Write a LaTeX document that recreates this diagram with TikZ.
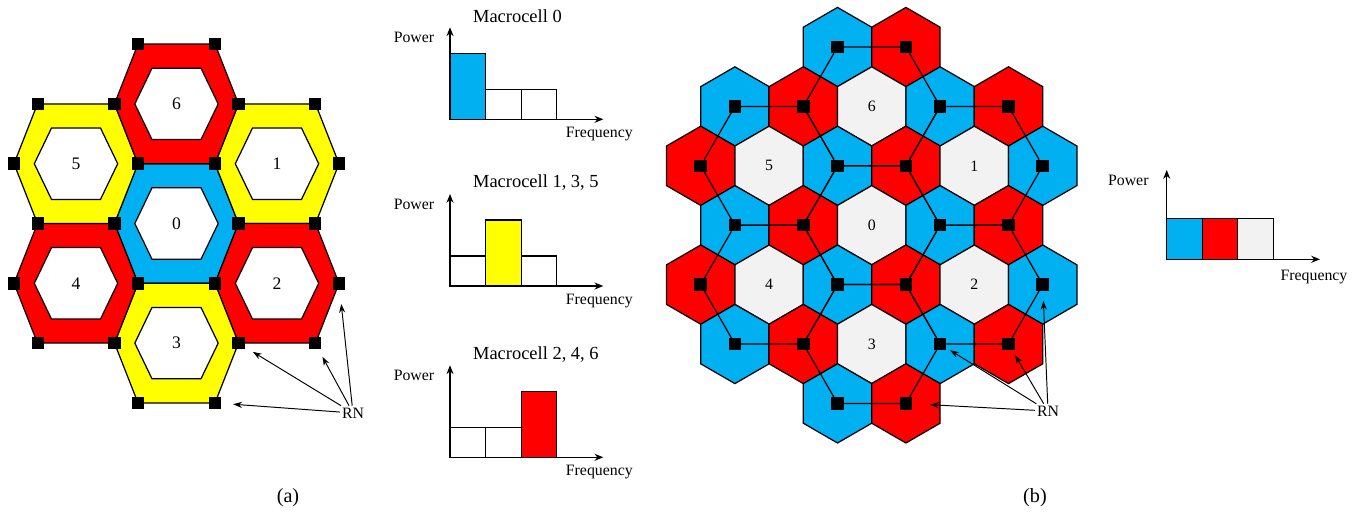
\documentclass[tikz,border=0pt]{standalone}
\usepackage{fontspec}
\setmainfont{Liberation Serif}
\usepackage{tikz}
\usetikzlibrary{arrows.meta}

\definecolor{celeste}{RGB}{0,176,240}
\definecolor{rosso}{RGB}{255,0,0}
\definecolor{giallo}{RGB}{255,255,0}
\definecolor{grigio}{RGB}{242,242,242}
\colorlet{tinta0}{grigio}
\colorlet{tinta1}{celeste}
\colorlet{tinta2}{rosso}

\tikzset{
  bordo/.style={draw=black, line width=0.7pt},
  rn/.style={fill=black, minimum size=2.5mm, inner sep=0pt, outer sep=0pt},
  etica/.style={font=\fontsize{10}{12}\selectfont, inner sep=1pt},
  eticb/.style={font=\fontsize{9}{11}\selectfont, inner sep=1pt},
  testo/.style={font=\fontsize{9}{11}\selectfont, inner sep=1pt},
  titolo/.style={font=\fontsize{10.5}{12}\selectfont, inner sep=1pt, anchor=west},
  didascalia/.style={font=\fontsize{11.5}{13}\selectfont, inner sep=1pt},
  asse/.style={line width=0.7pt, -{Stealth[length=5pt,width=4pt]}},
  freccia/.style={line width=0.55pt, -{Stealth[length=5pt,width=3.5pt]}},
  collega/.style={line width=0.7pt},
}

% righe della griglia (b): riga / prima colonna / ultima colonna
\newcommand{\righe}{-3/1/2,-2/-1/3,-1/-2/3,0/-2/2,1/-3/2,2/-3/1,3/-2/-1}

% macrocella con corona colorata
\newcommand{\cella}[5]{%
  \begin{scope}[shift={(#1,#2)}]
    \filldraw[bordo, fill=#3] (-62,0) -- (-38.5,-59.8) -- (38.5,-59.8)
      -- (62,0) -- (38.5,59.8) -- (-38.5,59.8) -- cycle;
    \filldraw[bordo, fill=white] (-41.7,0) -- (-24.5,-35.7) -- (24.5,-35.7)
      -- (41.7,0) -- (24.5,35.7) -- (-24.5,35.7) -- cycle;
    \node[etica] (#4) at (0,0) {#5};
  \end{scope}}

% spettro: nome, y origine, titolo, barra alta, colore
\newcommand{\spettro}[5]{%
  \begin{scope}[shift={(450,#2)}]
    \coordinate (#1) at (0,0);
    \foreach \i in {1,2,3}{%
      \ifnum\i=#4
        \filldraw[bordo, fill=#5] (35.6*\i-35.6,0) rectangle ++(35.6,-66);
      \else
        \filldraw[bordo, fill=white] (35.6*\i-35.6,0) rectangle ++(35.6,-30);
      \fi}
    \draw[asse] (#1) -- (0,-92);
    \draw[asse] (#1) -- (153.3,0);
    \node[titolo] (#1t) at (21,-103) {#3};
    \node[testo] (#1p) at (-36,-82) {Power};
    \node[testo] (#1f) at (149.3,15) {Frequency};
  \end{scope}}

\begin{document}
\begin{tikzpicture}[x=0.2mm, y=-0.2mm]
    \useasboundingbox (0,0) rectangle (1367,511);

    % (a)
    \cella{176.5}{223.5}{celeste}{a0}{0}
    \cella{277}{163.7}{giallo}{a1}{1}
    \cella{277}{283.3}{rosso}{a2}{2}
    \cella{176.5}{343.1}{giallo}{a3}{3}
    \cella{76}{283.3}{rosso}{a4}{4}
    \cella{76}{163.7}{giallo}{a5}{5}
    \cella{176.5}{103.9}{rosso}{a6}{6}
    \begin{scope}[shift={(176.5,223.5)}]
      \foreach [count=\i] \x/\y in {-38.5/-179.4, 38.5/-179.4,
          -138.5/-119.6, -62/-119.6, 62/-119.6, 138.5/-119.6,
          -162.5/-59.8, -38.5/-59.8, 38.5/-59.8, 162.5/-59.8,
          -138.5/0, -62/0, 62/0, 138.5/0,
          -162.5/59.8, -38.5/59.8, 38.5/59.8, 162.5/59.8,
          -138.5/119.6, -62/119.6, 62/119.6, 138.5/119.6,
          -38.5/179.4, 38.5/179.4}
        \node[rn] (A\i) at (\x,\y) {};
    \end{scope}
    \node[testo] (RNa) at (353,413) {RN};
    \draw[freccia, shorten >=1.9mm] (RNa) -- (A21);
    \draw[freccia, shorten >=1.7mm] (RNa) -- (A22);
    \draw[freccia, shorten >=2.9mm] (RNa) -- (A18);
    \draw[freccia, shorten >=2.4mm] (RNa) -- (A24);
    \node[didascalia] (capa) at (288,498) {(a)};

    % spettri delle macrocelle
    \spettro{S0}{119.3}{Macrocell 0}{1}{celeste}
    \spettro{S1}{286}{Macrocell 1, 3, 5}{2}{giallo}
    \spettro{S2}{457.3}{Macrocell 2, 4, 6}{3}{rosso}

    % (b)
    \foreach \r/\ca/\cb in \righe
      \foreach \c in {\ca,...,\cb}{
        \pgfmathtruncatemacro\k{mod(\c-\r+9,3)}
        \pgfmathsetmacro\xx{871.7+68.4*(\c)+34.2*(\r)}
        \pgfmathsetmacro\yy{225.2+59.4*(\r)}
        \filldraw[bordo, fill=tinta\k, shift={(\xx,\yy)}] (0,-39.6) -- (34.2,-19.8)
          -- (34.2,19.8) -- (0,39.6) -- (-34.2,19.8) -- (-34.2,-19.8) -- cycle;
      }
    \foreach \r/\ca/\cb in \righe
      \foreach \c in {\ca,...,\cb}{
        \pgfmathtruncatemacro\k{mod(\c-\r+9,3)}
        \pgfmathtruncatemacro\ci{\c+3}
        \pgfmathtruncatemacro\ri{\r+3}
        \pgfmathsetmacro\xx{871.7+68.4*(\c)+34.2*(\r)}
        \pgfmathsetmacro\yy{225.2+59.4*(\r)}
        \ifnum\k>0
          \node[rn] (B\ci\ri) at (\xx,\yy) {};
        \fi
      }
    % RN di ogni macrocella
    \foreach \c/\r in {0/0,2/-1,1/1,-1/2,-2/1,-1/-1,1/-2}{
      \pgfmathtruncatemacro\cA{\c+2}
      \pgfmathtruncatemacro\cB{\c+3}
      \pgfmathtruncatemacro\cC{\c+4}
      \pgfmathtruncatemacro\rA{\r+2}
      \pgfmathtruncatemacro\rB{\r+3}
      \pgfmathtruncatemacro\rC{\r+4}
      \draw[collega] (B\cC\rB) -- (B\cC\rA) -- (B\cB\rA) -- (B\cA\rB)
        -- (B\cA\rC) -- (B\cB\rC) -- (B\cC\rB);
    }
    \foreach \c/\r/\n in {0/0/0,2/-1/1,1/1/2,-1/2/3,-2/1/4,-1/-1/5,1/-2/6}{
      \pgfmathsetmacro\xx{871.7+68.4*(\c)+34.2*(\r)}
      \pgfmathsetmacro\yy{225.2+59.4*(\r)}
      \node[eticb] (M\n) at (\xx,\yy) {\n};
    }
    \node[testo] (RNb) at (1048,411) {RN};
    \draw[freccia, shorten >=0.9mm] (RNb) -- (B35);
    \draw[freccia, shorten >=1.1mm] (RNb) -- (B45);
    \draw[freccia, shorten >=2mm] (RNb) -- (B54);
    \draw[freccia, shorten >=3.6mm] (RNb) -- (B26);
    \node[didascalia] (capb) at (1035,498) {(b)};

    % spettro complessivo
    \begin{scope}[shift={(1166.7,259.3)}]
      \coordinate (S3) at (0,0);
      \filldraw[bordo, fill=celeste] (S3) rectangle ++(35.5,-41);
      \filldraw[bordo, fill=rosso] (35.5,0) rectangle ++(35.5,-41);
      \filldraw[bordo, fill=grigio] (71,0) rectangle ++(35.5,-41);
      \draw[asse] (S3) -- (0,-89.3);
      \draw[asse] (S3) -- (153.3,0);
      \node[testo] (S3p) at (-38.4,-78.6) {Power};
      \node[testo] (S3f) at (147.3,17.4) {Frequency};
    \end{scope}
\end{tikzpicture}
\end{document}
